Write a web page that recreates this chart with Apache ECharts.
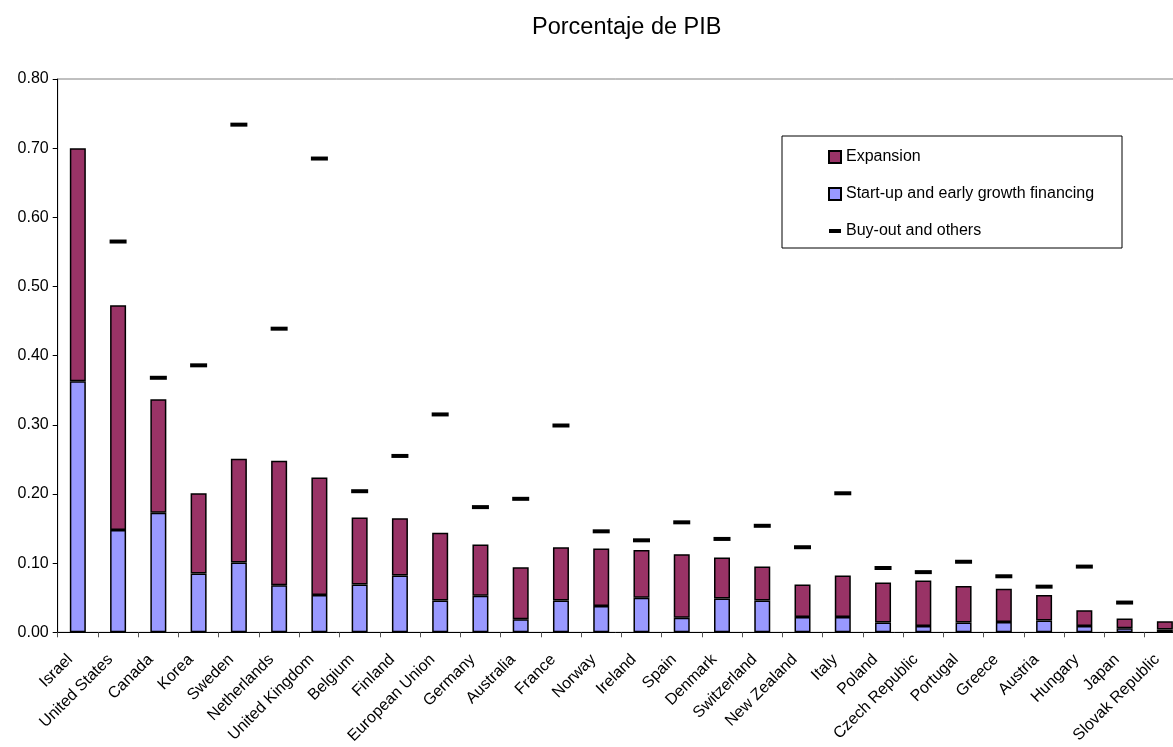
<!DOCTYPE html>
<html>
<head>
<meta charset="utf-8">
<script src="https://cdn.jsdelivr.net/npm/echarts@6/dist/echarts.min.js"></script>
<style>
  html, body { margin: 0; padding: 0; background: #fff; }
  #chart { width: 1173px; height: 747px; }
</style>
</head>
<body>
<div id="chart"></div>
<script>
// Venture capital investment by stage, as a share of GDP
const countries = ['Israel', 'United States', 'Canada', 'Korea', 'Sweden', 'Netherlands',
  'United Kingdom', 'Belgium', 'Finland', 'European Union', 'Germany', 'Australia', 'France',
  'Norway', 'Ireland', 'Spain', 'Denmark', 'Switzerland', 'New Zealand', 'Italy', 'Poland',
  'Czech Republic', 'Portugal', 'Greece', 'Austria', 'Hungary', 'Japan', 'Slovak Republic'];

const startUp = [0.363, 0.148, 0.173, 0.085, 0.101, 0.068, 0.054, 0.069, 0.082, 0.046,
  0.053, 0.019, 0.046, 0.038, 0.050, 0.021, 0.049, 0.046, 0.022, 0.022, 0.014, 0.009,
  0.014, 0.015, 0.017, 0.009, 0.006, 0.004];

const expansion = [0.337, 0.325, 0.164, 0.116, 0.150, 0.180, 0.170, 0.097, 0.083, 0.098,
  0.074, 0.075, 0.077, 0.083, 0.069, 0.092, 0.059, 0.049, 0.047, 0.060, 0.058, 0.066,
  0.053, 0.048, 0.037, 0.023, 0.014, 0.012];

const buyOut = [null, 0.565, 0.368, 0.386, 0.734, 0.439, 0.685, 0.204, 0.255, 0.315,
  0.181, 0.193, 0.299, 0.146, 0.133, 0.159, 0.135, 0.154, 0.123, 0.201, 0.093, 0.087,
  0.102, 0.081, 0.066, 0.095, 0.043, null];

const yTicks = { min: 0, max: 0.8, step: 0.1 };

const FONT = '"Liberation Sans", Arial, Helvetica, sans-serif';
const chart = echarts.init(document.getElementById('chart'), null, { renderer: 'canvas' });

chart.setOption({
  animation: false,
  backgroundColor: '#ffffff',
  textStyle: { fontFamily: FONT, color: '#000' },
  title: {
    text: 'Porcentaje de PIB',
    left: 532,
    top: 16,
    padding: 0,
    textStyle: { fontFamily: FONT, fontSize: 23.5, fontWeight: 'normal', color: '#000' }
  },
  grid: {
    left: 57.7,
    top: 79,
    width: 1127.3,
    bottom: 114.7,
    outerBoundsMode: 'none',
    containLabel: false,
    show: true,
    borderColor: '#808080',
    borderWidth: 1,
    backgroundColor: 'transparent'
  },
  graphic: [{
    type: 'rect',
    shape: { x: 782, y: 136, width: 340, height: 112 },
    style: { fill: '#fff', stroke: '#000', lineWidth: 1 },
    z: 5
  }],
  legend: {
    orient: 'vertical',
    left: 828,
    top: 149,
    padding: 0,
    itemGap: 21,
    itemWidth: 12,
    itemHeight: 12,
    z: 10,
    textStyle: { fontFamily: FONT, fontSize: 16, color: '#000', lineHeight: 16 },
    data: [
      { name: 'Expansion', icon: 'rect' },
      { name: 'Start-up and early growth financing', icon: 'rect' },
      { name: 'Buy-out and others',
        icon: 'path://M0,0h12v0h-12z M0,4h12v4h-12z M0,12h12v0h-12z' }
    ]
  },
  xAxis: {
    type: 'category',
    data: countries,
    boundaryGap: true,
    axisLine: { lineStyle: { color: '#000', width: 1 } },
    axisTick: { show: true, length: 5, lineStyle: { color: '#555' } },
    axisLabel: {
      interval: 0,
      rotate: 45,
      margin: 17,
      padding: [0, 11, 0, 0],
      fontFamily: FONT,
      fontSize: 16,
      color: '#000'
    },
    splitLine: { show: false }
  },
  yAxis: {
    type: 'value',
    min: yTicks.min,
    max: yTicks.max,
    interval: yTicks.step,
    axisLine: { show: true, lineStyle: { color: '#000', width: 1 } },
    axisTick: { show: true, length: 5, lineStyle: { color: '#000' } },
    axisLabel: {
      margin: 9,
      fontFamily: FONT,
      fontSize: 16,
      color: '#000',
      formatter: v => v.toFixed(2)
    },
    splitLine: { show: false }
  },
  series: [
    {
      name: 'Start-up and early growth financing',
      type: 'bar',
      stack: 'total',
      barWidth: 16,
      data: startUp,
      itemStyle: { color: '#9999ff', borderColor: '#000', borderWidth: 1.5 }
    },
    {
      name: 'Expansion',
      type: 'bar',
      stack: 'total',
      barWidth: 16,
      data: expansion,
      itemStyle: { color: '#993366', borderColor: '#000', borderWidth: 1.5 }
    },
    {
      name: 'Buy-out and others',
      type: 'scatter',
      symbol: 'rect',
      symbolSize: [17, 4],
      data: buyOut,
      z: 4,
      itemStyle: { color: '#000', borderWidth: 0, opacity: 1 }
    }
  ]
});
</script>
</body>
</html>
